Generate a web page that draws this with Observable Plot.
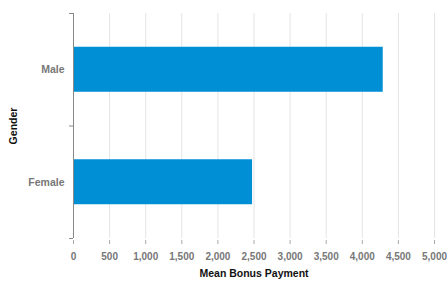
<!DOCTYPE html>
<html>
<head>
<meta charset="utf-8">
<script src="https://cdn.jsdelivr.net/npm/d3@7"></script>
<script src="https://cdn.jsdelivr.net/npm/@observablehq/plot@0.6"></script>
<style>
  html, body { margin: 0; padding: 0; background: #fff; }
  svg { display: block; }
</style>
</head>
<body>
<div id="chart"></div>
<script>
const genders = ["Female", "Male"];
const meanBonus = [2480, 4290];
const xTicks = [0, 500, 1000, 1500, 2000, 2500, 3000, 3500, 4000, 4500, 5000];

const data = genders.map((g, i) => ({gender: g, index: i, value: meanBonus[i]}));
const centers = genders.map((g, i) => i + 0.5);
const bounds = d3.range(genders.length + 1);
const half = 0.2;

const font = "'Liberation Sans', Arial, sans-serif";

const chart = Plot.plot({
  width: 447,
  height: 282,
  marginLeft: 73,
  marginRight: 13,
  marginTop: 13,
  marginBottom: 44,
  style: {fontFamily: font, fontSize: "10px", fontWeight: "bold", background: "#fff"},
  x: {domain: [0, 5000]},
  y: {domain: [0, genders.length]},
  marks: [
    Plot.gridX(xTicks, {stroke: "#e4e4e4", strokeOpacity: 1}),
    Plot.rectX(data, {
      x1: 0, x2: "value",
      y1: d => d.index + 0.5 - half,
      y2: d => d.index + 0.5 + half,
      fill: "#008fd5"
    }),
    Plot.ruleX([0], {stroke: "#888", strokeWidth: 1}),
    Plot.axisX({
      ticks: xTicks, tickFormat: d3.format(","), tickSize: 4, dy: 2, tickPadding: 8,
      stroke: "#aaa", fill: "#777", label: "Mean Bonus Payment", labelAnchor: "center",
      labelArrow: "none", labelOffset: 38
    }),
    Plot.axisY({
      ticks: bounds, tickSize: 4, tickFormat: () => "", stroke: "#888", label: null
    }),
    Plot.axisY({
      ticks: centers, tickSize: 0, tickPadding: 9, fill: "#777",
      tickFormat: (d) => genders[Math.floor(d)], fontSize: "10.5px",
      label: "Gender", labelAnchor: "center", labelArrow: "none", labelOffset: 64
    })
  ]
});

chart.querySelectorAll("[aria-label='x-axis label'] text, [aria-label='y-axis label'] text").forEach(t => {
  t.setAttribute("fill", "#111");
  t.style.fontSize = "10.5px";
});

document.getElementById("chart").append(chart);
</script>
</body>
</html>
